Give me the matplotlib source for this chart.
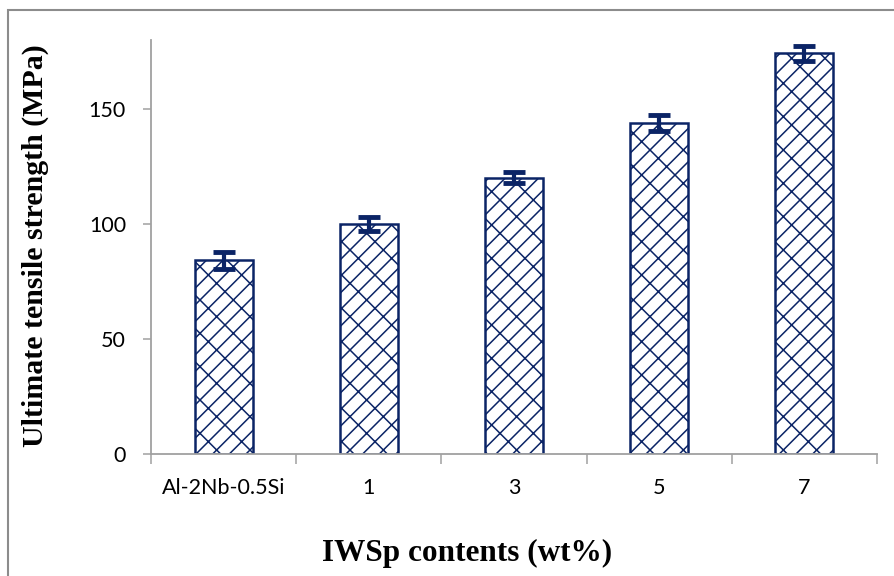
import matplotlib
matplotlib.use("Agg")
import matplotlib.pyplot as plt
from matplotlib.patches import Rectangle
import numpy as np

categories = ["Al-2Nb-0.5Si", "1", "3", "5", "7"]
uts = [84.2, 100.0, 120.2, 143.9, 174.3]
uts_err = [3.7, 3.2, 2.4, 3.5, 3.3]
y_ticks = [0, 50, 100, 150]

navy = "#0B2466"
grey = "#A0A0A0"

plt.rcParams["hatch.linewidth"] = 1.1
plt.rcParams["hatch.color"] = navy

fig = plt.figure(figsize=(8.95, 5.76), dpi=100)
W, H = 895, 576
ax = fig.add_axes([151 / W, 122 / H, (877 - 151) / W, (536 - 122) / H])

# outer chart border
fig.patches.append(Rectangle((8 / W, -0.1), 1.2, 1.1 - 10 / H,
                             transform=fig.transFigure, fill=False,
                             edgecolor="#8C8C8C", lw=1.5, zorder=-1))

x = np.arange(len(categories))
ax.bar(x, uts, width=0.4, color="white", edgecolor=navy, linewidth=1.8,
       hatch="/x", zorder=2)
ax.errorbar(x, uts, yerr=uts_err, fmt="none", ecolor=navy, elinewidth=3,
            capsize=8, capthick=3.5, zorder=3)

ax.set_xlim(-0.5, len(categories) - 0.5)
ax.set_ylim(0, 180)

ax.set_yticks(y_ticks)
ax.set_yticklabels([str(v) for v in y_ticks], fontsize=15.5, family="Lato")
ax.tick_params(axis="y", direction="out", length=6, width=1.1, color=grey, pad=12)

ax.set_xticks(np.arange(len(categories) + 1) - 0.5)
ax.set_xticklabels([])
ax.tick_params(axis="x", which="major", direction="out", length=7, width=1.1, color=grey)
ax.set_xticks(x, minor=True)
ax.set_xticklabels(categories, minor=True, fontsize=15.5, family="Lato")
ax.tick_params(axis="x", which="minor", length=0, pad=17)

for s in ["top", "right"]:
    ax.spines[s].set_visible(False)
for s in ["left", "bottom"]:
    ax.spines[s].set_color(grey)
    ax.spines[s].set_linewidth(1.3)

fig.text(467 / W, 1 - 553 / H, "IWSp contents (wt%)", ha="center", va="center",
         fontsize=22.5, fontweight="bold", family="Liberation Serif")
fig.text(35 / W, 1 - 246 / H, "Ultimate tensile strength (MPa)", ha="center",
         va="center", rotation=90, fontsize=21.5, fontweight="bold",
         family="Liberation Serif")

fig.savefig("out.png", dpi=100)
